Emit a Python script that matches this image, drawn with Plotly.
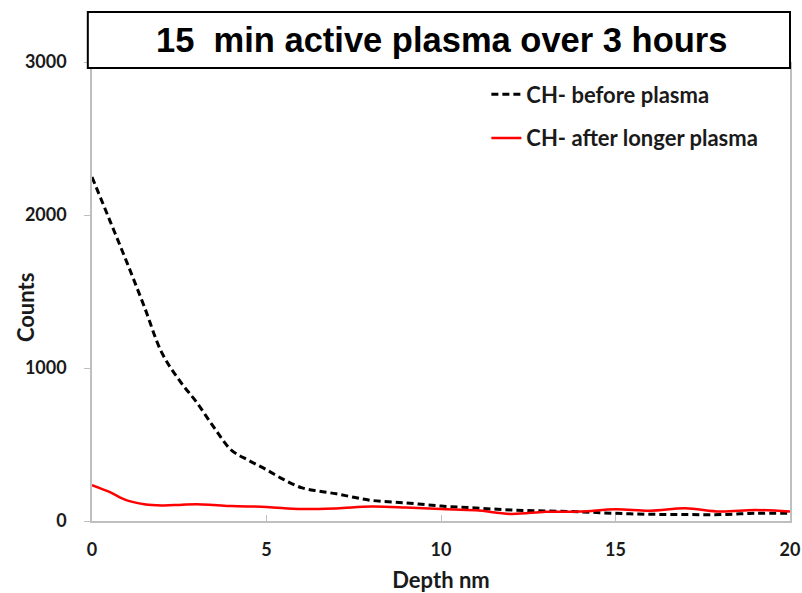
import plotly.graph_objects as go

# Depth profile
depth_before = [0, 0.5, 1, 1.5, 2, 2.5, 3, 3.5, 4, 4.5, 5, 5.5, 6, 6.5, 7, 7.5, 8,
                9, 10, 11, 12, 13, 14, 15, 16, 17, 18, 19, 20]
counts_before = [2248, 1970, 1690, 1400, 1100, 920, 775, 610, 462, 395, 335, 270, 218, 195, 178, 155, 135,
                 118, 98, 85, 72, 66, 60, 50, 44, 42, 42, 50, 50]

depth_after = [0, 0.5, 1, 1.5, 2, 2.5, 3, 3.5, 4, 5, 6, 7, 8, 9, 10, 11, 12,
               13, 14, 15, 16, 17, 18, 19, 20]
counts_after = [235, 190, 135, 110, 102, 105, 110, 105, 98, 92, 78, 82, 94, 88, 78, 70, 46,
                60, 62, 76, 67, 83, 62, 72, 62]

title_text = "15  min active plasma over 3 hours"
x_ticks = [0, 5, 10, 15, 20]
y_ticks = [0, 1000, 2000, 3000]

AXIS_GREY = "#bfbfbf"
TEXT = "#1a1a1a"
LABEL_FONT = dict(family="Lato", size=18, color=TEXT, weight="bold")
TITLE_FONT = dict(family="Lato", size=22, color=TEXT, weight="bold")

fig = go.Figure()

fig.add_trace(go.Scatter(
    x=depth_before, y=counts_before,
    mode="lines", line=dict(color="black", width=3, dash="7px,4px", shape="spline"),
    name="CH- before plasma", legendgroup="a"
))

fig.add_trace(go.Scatter(
    x=depth_after, y=counts_after,
    mode="lines", line=dict(color="#ff0000", width=2.5, shape="spline"),
    name="CH- after longer plasma", legendgroup="b"
))

# Boxed title on top of the plot
fig.add_shape(type="rect", xref="paper", yref="paper",
              x0=-0.006, x1=1.0, y0=0.987, y1=1.109,
              line=dict(color="black", width=2), fillcolor="white", layer="above")
fig.add_annotation(text=title_text, xref="paper", yref="paper", x=0.501, y=1.048,
                   showarrow=False, xanchor="center", yanchor="middle",
                   font=dict(family="Liberation Sans", size=34.5, color="black", weight="bold"))

# y axis title sits closer to the tick labels than plotly's standoff allows
fig.add_annotation(text="Counts", xref="paper", yref="paper", x=-0.096, y=0.466,
                   textangle=-90, showarrow=False, xanchor="center", yanchor="middle",
                   font=TITLE_FONT)

fig.update_layout(
    width=802, height=593,
    margin=dict(l=92, r=12, t=62, b=72),
    plot_bgcolor="white", paper_bgcolor="white",
    showlegend=True,
    legend=dict(x=0.565, y=0.975, xanchor="left", yanchor="top",
                bgcolor="rgba(0,0,0,0)", tracegroupgap=12,
                font=dict(family="Lato", size=22, color=TEXT, weight="bold")),
    xaxis=dict(range=[0, 20], tickvals=x_ticks, showgrid=False, zeroline=False,
               showline=True, linecolor=AXIS_GREY, linewidth=1.5, automargin=False,
               ticks="inside", ticklen=6, tickcolor=AXIS_GREY,
               tickfont=LABEL_FONT, ticklabelstandoff=12,
               title=dict(text="Depth nm", standoff=14, font=TITLE_FONT)),
    yaxis=dict(range=[0, 3000], tickvals=y_ticks, showgrid=False, zeroline=False,
               showline=True, linecolor=AXIS_GREY, linewidth=1.5, mirror=True, automargin=False,
               ticks="outside", ticklen=6, tickcolor=AXIS_GREY,
               tickfont=LABEL_FONT, ticklabelstandoff=14),
)

fig.write_html("out.html", config={"displayModeBar": False},
               post_script="document.body.style.margin='0';")
